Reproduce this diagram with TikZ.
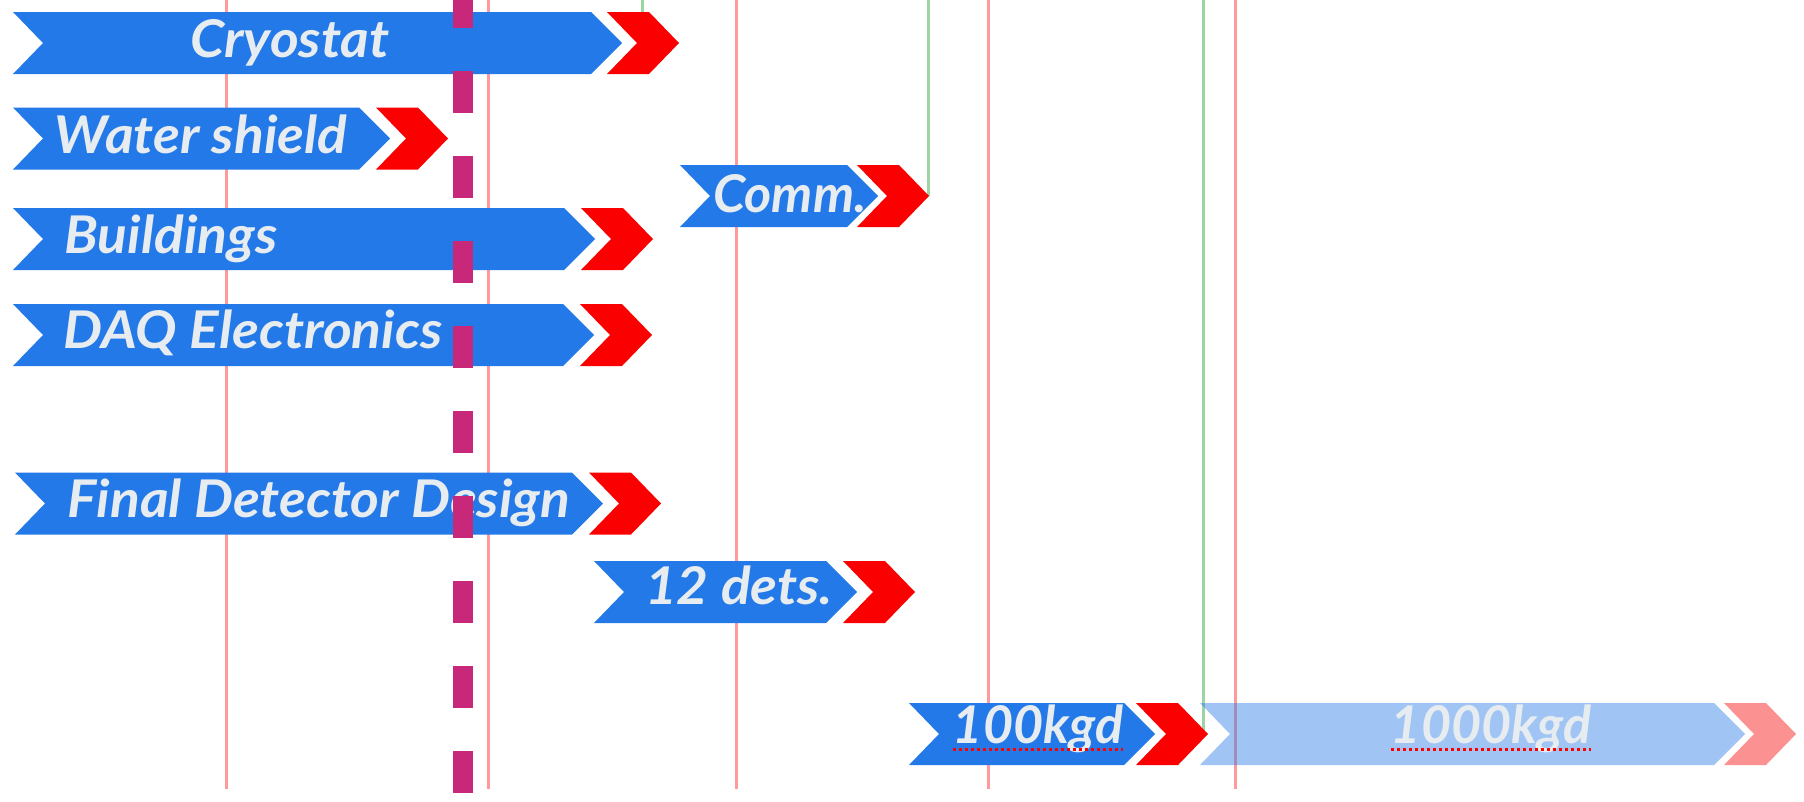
\documentclass[tikz,border=0pt]{standalone}
\usepackage{fontspec}
\usepackage{graphicx}
\setmainfont{Lato}
\definecolor{barblue}{HTML}{2479E8}
\definecolor{barred}{HTML}{FA0000}
\definecolor{labelgrey}{HTML}{E6ECEF}
\definecolor{gridred}{HTML}{FF9A9A}
\definecolor{gridgreen}{HTML}{9CD4A4}
\definecolor{todaymag}{HTML}{C8287A}

\tikzset{
  barlabel/.style={text=labelgrey, font=\fontsize{52}{62}\selectfont\bfseries\itshape,
                   inner sep=0pt, anchor=base},
  redline/.style={draw=gridred, line width=3pt},
  greenline/.style={draw=gridgreen, line width=3pt},
  todayline/.style={draw=todaymag, line width=20pt, dash pattern=on 42pt off 43pt, dash phase=14pt},
  squiggle/.style={draw=red, line width=3pt, dash pattern=on 3pt off 3pt},
}

% slightly widened label text
\newcommand\widelbl[1]{\scalebox{1.06}[1]{#1}}

% #1 name, #2 left x, #3 x of the red tip, #4 centre y, #5 opacity,
% #6 distance from the blue point to the red tip
\newcommand\taskbar[6]{%
  \fill[barblue, fill opacity=#5] (#2,#4-31) -- (#3-#6-31,#4-31) -- (#3-#6,#4) -- (#3-#6-31,#4+31)
        -- (#2,#4+31) -- (#2+30,#4) -- cycle;
  \fill[barred, fill opacity=#5] (#3-72,#4-31) -- (#3-30,#4-31) -- (#3,#4) -- (#3-30,#4+31)
        -- (#3-72,#4+31) -- (#3-42,#4) -- cycle;
  \coordinate (#1-end) at (#3,#4);
}

\begin{document}
\begin{tikzpicture}[x=1pt, y=-1pt]
  \fill[white] (0,0) rectangle (1804,801);
  \useasboundingbox (0,0) rectangle (1804,801);

  % milestone grid
  \foreach \gx [count=\i] in {226,488,736,988,1235} {
    \coordinate (rt\i) at (\gx,0);
    \coordinate (rb\i) at (\gx,789);
    \draw[redline] (rt\i) -- (rb\i);
  }

  % dependency lines from the top edge, ending at the task they wait for
  \coordinate (cryo-end) at (679,43);
  \coordinate (comm-end) at (929,196);
  \coordinate (hkgd-end) at (1208,734);
  \coordinate (g1) at (642,0);
  \coordinate (g2) at (928,0);
  \coordinate (g3) at (1203,0);
  \draw[greenline] (g1) -- (g1 |- cryo-end);
  \draw[greenline] (g2) -- (g2 |- comm-end);
  \draw[greenline] (g3) -- (g3 |- hkgd-end);

  % task bars
  \taskbar{cryo}{13}{679}{43}{1}{57}
  \taskbar{water}{13}{448}{138.5}{1}{58}
  \taskbar{comm}{680}{929}{196}{1}{51}
  \taskbar{build}{13}{653}{239}{1}{58}
  \taskbar{daq}{13}{652}{335}{1}{58}
  \taskbar{design}{15}{661}{503.5}{1}{58}
  \taskbar{dets}{594}{915}{592}{1}{58}
  \taskbar{hkgd}{909}{1208}{734}{1}{53}
  \taskbar{tkgd}{1200}{1796}{734}{0.43}{51}

  % labels
  \node[barlabel] (tcryo) at (290,57) {\widelbl{Cryostat}};
  \node[barlabel] (twater) at (201,153) {\widelbl{Water shield}};
  \node[barlabel] (tcomm) at (790,212) {Comm.};
  \node[barlabel] (tbuild) at (171,253) {\widelbl{Buildings}};
  \node[barlabel] (tdaq) at (253,348) {\widelbl{DAQ Electronics}};
  \node[barlabel] (tdesign) at (319,517) {\widelbl{Final Detector Design}};
  \node[barlabel] (tdets) at (739,604) {\widelbl{12 dets.}};
  \node[barlabel] (thkgd) at (1038,743) {100kgd};
  \node[barlabel] (ttkgd) at (1491,743) {1000kgd};

  \draw[squiggle] ([yshift=-6pt]thkgd.base west) -- ([yshift=-6pt]thkgd.base east);
  \draw[squiggle] ([yshift=-6pt]ttkgd.base west) -- ([yshift=-6pt]ttkgd.base east);

  % current date marker
  \coordinate (nowtop) at (463,0);
  \coordinate (nowbot) at (463,794);
  \draw[todayline] (nowtop) -- (nowbot);
\end{tikzpicture}
\end{document}
